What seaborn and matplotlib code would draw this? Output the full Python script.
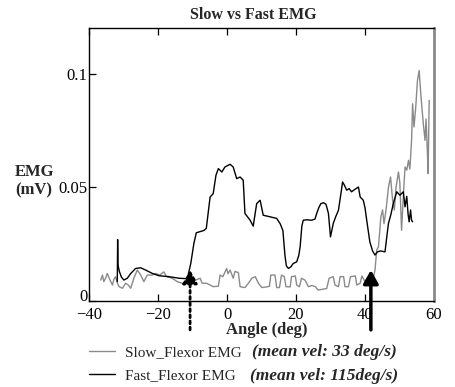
import numpy as np
import pandas as pd
import matplotlib
matplotlib.use("Agg")
import matplotlib.pyplot as plt
import seaborn as sns

# ---- data ----
slow_angle = [-36.6, -36.1, -35.7, -35.2, -34.7, -34.0, -33.2, -32.8, -32.3, -31.8, -31.3, -30.3,
              -29.4, -28.6, -27.9, -27.0, -26.0, -25.0, -24.1, -23.1, -21.7, -20.7, -19.5, -18.3,
              -17.5, -15.9, -14.4, -13.0, -11.0, -9.8, -9.1, -7.8, -7.2, -5.9, -4.0, -2.5, -2.0,
              -1.2, -0.1, 0.3, 0.9, 1.8, 2.3, 3.3, 3.8, 5.2, 6.2, 7.2, 8.2, 9.1, 10.1, 11.5, 12.3,
              12.7, 13.9, 14.4, 15.2, 15.8, 16.6, 17.1, 18.3, 18.7, 19.8, 20.2, 21.0, 21.6, 22.6,
              23.6, 24.6, 25.6, 26.4, 28.9, 29.6, 30.8, 31.3, 32.3, 32.8, 33.8, 34.2, 35.2, 35.8,
              37.2, 37.6, 38.6, 39.1, 40.0, 40.6, 41.4, 42.4, 42.9, 43.4, 43.9, 44.6, 45.1, 45.5,
              46.1, 46.8, 47.4, 48.0, 48.5, 49.0, 49.7, 50.1, 50.6, 51.1, 51.6, 52.1, 52.6, 53.0,
              53.5, 53.8, 54.2, 54.7, 55.2, 55.7, 56.1, 56.5, 56.9, 57.4, 57.7, 58.1, 58.3, 58.6]
slow_emg = [0.0092, 0.0114, 0.0085, 0.0100, 0.0121, 0.0095, 0.0070, 0.0095, 0.0107, 0.0080, 0.0063,
            0.0056, 0.0078, 0.0070, 0.0056, 0.0100, 0.0136, 0.0114, 0.0085, 0.0114, 0.0114, 0.0121,
            0.0114, 0.0128, 0.0107, 0.0100, 0.0085, 0.0078, 0.0078, 0.0107, 0.0092, 0.0100, 0.0078,
            0.0078, 0.0063, 0.0065, 0.0114, 0.0107, 0.0143, 0.0120, 0.0136, 0.0100, 0.0130, 0.0125,
            0.0063, 0.0059, 0.0078, 0.0100, 0.0107, 0.0078, 0.0059, 0.0062, 0.0065, 0.0114, 0.0114,
            0.0059, 0.0059, 0.0114, 0.0107, 0.0063, 0.0062, 0.0107, 0.0110, 0.0070, 0.0063, 0.0100,
            0.0092, 0.0063, 0.0068, 0.0063, 0.0048, 0.0055, 0.0100, 0.0107, 0.0070, 0.0063, 0.0107,
            0.0107, 0.0063, 0.0063, 0.0107, 0.0110, 0.0070, 0.0078, 0.0110, 0.0085, 0.0100, 0.0092,
            0.0100, 0.0136, 0.0224, 0.0238, 0.0370, 0.0400, 0.0340, 0.0400, 0.0500, 0.0545, 0.0443,
            0.0400, 0.0500, 0.0567, 0.0520, 0.0311, 0.0457, 0.0589, 0.0575, 0.0618, 0.0580, 0.0706,
            0.0867, 0.0765, 0.0850, 0.0969, 0.1013, 0.0925, 0.0850, 0.0780, 0.0706, 0.0800, 0.0648,
            0.0560, 0.0882]

fast_angle = [-31.8, -31.7, -31.6, -31.2, -30.6, -29.9, -28.9, -27.9, -26.5, -25.0, -23.6, -21.6,
              -19.7, -16.8, -13.9, -11.5, -10.5, -9.6, -8.9, -6.7, -6.0, -4.9, -4.0, -3.2, -2.5,
              -1.5, -0.6, 0.9, 1.8, 2.8, 3.8, 4.7, 5.2, 6.7, 7.6, 8.6, 9.6, 10.5, 12.5, 14.4, 15.4,
              16.2, 16.8, 17.2, 17.8, 18.5, 19.2, 20.2, 20.8, 21.2, 21.7, 22.1, 23.1, 24.5, 25.5,
              26.0, 26.6, 27.2, 28.0, 28.7, 29.4, 30.0, 30.8, 31.5, 32.3, 33.0, 33.5, 34.0, 34.7,
              35.4, 36.1, 37.0, 38.1, 38.6, 39.5, 40.0, 40.5, 41.4, 42.2, 42.9, 43.6, 44.5, 45.8,
              46.3, 46.8, 47.5, 48.2, 49.2, 50.1, 51.1, 51.6, 52.1, 52.5, 52.8, 53.2, 53.5, 53.8]
fast_emg = [0.0085, 0.0270, 0.0158, 0.0130, 0.0105, 0.0092, 0.0100, 0.0121, 0.0143, 0.0146, 0.0136,
            0.0121, 0.0111, 0.0107, 0.0100, 0.0098, 0.0165, 0.0253, 0.0300, 0.0310, 0.0319, 0.0457,
            0.0472, 0.0553, 0.0582, 0.0567, 0.0589, 0.0601, 0.0589, 0.0538, 0.0545, 0.0531, 0.0385,
            0.0355, 0.0329, 0.0428, 0.0443, 0.0377, 0.0370, 0.0363, 0.0340, 0.0310, 0.0200, 0.0155,
            0.0143, 0.0150, 0.0165, 0.0172, 0.0200, 0.0238, 0.0330, 0.0355, 0.0357, 0.0355, 0.0360,
            0.0385, 0.0410, 0.0428, 0.0432, 0.0425, 0.0385, 0.0282, 0.0341, 0.0370, 0.0399, 0.0470,
            0.0523, 0.0510, 0.0487, 0.0494, 0.0480, 0.0490, 0.0501, 0.0457, 0.0443, 0.0410, 0.0355,
            0.0260, 0.0220, 0.0202, 0.0216, 0.0220, 0.0216, 0.0280, 0.0341, 0.0380, 0.0428, 0.0480,
            0.0465, 0.0480, 0.0414, 0.0460, 0.0380, 0.0348, 0.0400, 0.0355, 0.0348]

x_ticks = [-40, -20, 0, 20, 40, 60]
y_ticks = [0, 0.05, 0.1]
y_ticklabels = ["0", "0.05", "0.1"]
series_labels = ["Slow_Flexor EMG", "Fast_Flexor EMG"]
series_notes = ["(mean vel: 33 deg/s)", "(mean vel: 115deg/s)"]
onset_angles = [-10.7, 41.7]   # arrows marking EMG onset
onset_level = 0.0136

# ---- style ----
sns.set_style("ticks")
plt.rcParams["font.family"] = ["Liberation Serif", "DejaVu Serif"]
plt.rcParams["axes.unicode_minus"] = True

W, H = 455, 387
fig = plt.figure(figsize=(W / 100, H / 100), dpi=100)
ax = fig.add_axes([89 / W, 1 - 301 / H, (434 - 89) / W, (301 - 28) / H])

slow_df = pd.DataFrame({"angle": slow_angle, "emg": slow_emg})
fast_df = pd.DataFrame({"angle": fast_angle, "emg": fast_emg})

sns.lineplot(data=slow_df, x="angle", y="emg", ax=ax, color="#8a8a8a", lw=1.0,
             estimator=None, sort=False, label=series_labels[0], legend=False)
sns.lineplot(data=fast_df, x="angle", y="emg", ax=ax, color="black", lw=1.0,
             estimator=None, sort=False, label=series_labels[1], legend=False)

ax.set_xlim(-40, 60)
ax.set_ylim(0, 0.12)
ax.set_xticks(x_ticks)
ax.set_yticks(y_ticks)
ax.set_yticklabels(y_ticklabels)

ax.tick_params(axis="both", direction="in", length=5, width=0.9, labelsize=12, colors="black")
ax.tick_params(axis="x", pad=4.0, top=True)
ax.tick_params(axis="y", pad=1)
# the corner "0" sits on the axis line so it clears the "−40" label
ax.get_yticklabels()[0].set_va("baseline")

for s in ["left", "bottom", "top"]:
    ax.spines[s].set_visible(True)
    ax.spines[s].set_color("black")
    ax.spines[s].set_linewidth(1.0)
ax.spines["right"].set_visible(True)
ax.spines["right"].set_color("#8a8a8a")
ax.spines["right"].set_linewidth(2.0)

ax.set_title("Slow vs Fast EMG", fontsize=11.5, fontweight="bold", x=0.475,
             y=(301 - 15) / 273, va="center", pad=0)
ax.set_xlabel("Angle (deg)", fontsize=12, fontweight="bold")
ax.xaxis.set_label_coords(0.516, (301 - 330) / 273)
ax.xaxis.label.set_va("center")
ax.set_ylabel("EMG\n(mV)", fontsize=12, fontweight="bold", rotation=0,
              ha="left", va="center", multialignment="left", linespacing=1.2)
ax.yaxis.set_label_coords((15 - 89) / 345, (301 - 181) / 273)

# onset arrows
ax.annotate("", xy=(onset_angles[0], onset_level), xytext=(onset_angles[0], -0.0127),
            arrowprops=dict(arrowstyle="-|>,head_length=0.8,head_width=0.45", lw=2.0,
                            ls=(0, (1, 1.2)), color="black", shrinkA=0, shrinkB=0),
            annotation_clip=False)
ax.annotate("", xy=(onset_angles[1], onset_level), xytext=(onset_angles[1], -0.0127),
            arrowprops=dict(arrowstyle="-|>,head_length=0.8,head_width=0.45", lw=2.5,
                            color="black", shrinkA=0, shrinkB=0),
            annotation_clip=False)

# legend below the axes
handles = ax.get_lines()[:2]
leg = ax.legend(handles, series_labels, loc="center left",
                bbox_to_anchor=(89 / W, 1 - 364 / H), bbox_transform=fig.transFigure,
                frameon=False, fontsize=11, handlelength=1.7, handletextpad=0.65,
                labelspacing=0.6, borderpad=0, borderaxespad=0)
fig.text(252 / W, 1 - 352 / H, series_notes[0], fontsize=12.5, fontweight="bold",
         style="italic", va="center", ha="left")
fig.text(250 / W, 1 - 376 / H, series_notes[1], fontsize=12.5, fontweight="bold",
         style="italic", va="center", ha="left")

fig.savefig("out.png", dpi=100)
